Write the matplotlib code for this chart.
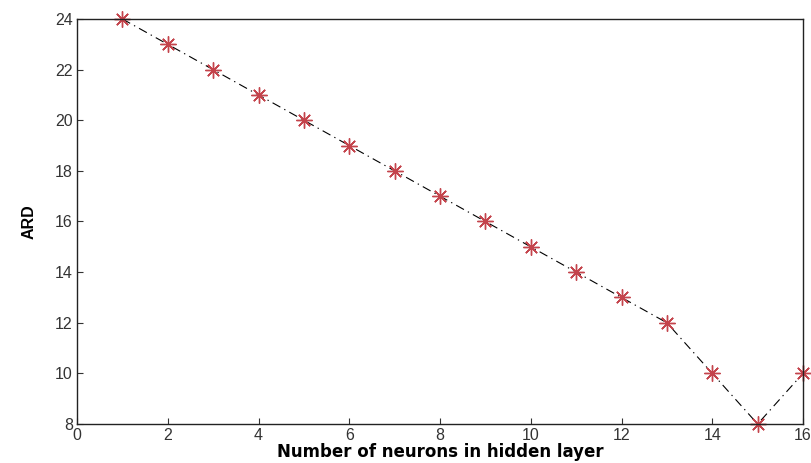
import numpy as np
import matplotlib.pyplot as plt

neurons = [1, 2, 3, 4, 5, 6, 7, 8, 9, 10, 11, 12, 13, 14, 15, 16]
ard = [24, 23, 22, 21, 20, 19, 18, 17, 16, 15, 14, 13, 12, 10, 8, 10]

xticks = [0, 2, 4, 6, 8, 10, 12, 14, 16]
yticks = [8, 10, 12, 14, 16, 18, 20, 22, 24]

plt.rcParams['font.family'] = ['Liberation Sans', 'DejaVu Sans']

fig = plt.figure(figsize=(8.11, 4.63), dpi=100)
ax = fig.add_axes([77/811, 1 - 424/463, (803 - 77)/811, (424 - 19)/463])

# dash-dot line, then asterisk markers on top
ax.plot(neurons, ard, color='black', linestyle=(0, (8, 4, 1.2, 4)), linewidth=0.8, clip_on=False)
ax.plot(neurons, ard, linestyle='none', marker=(8, 2, 0), markersize=11.5,
        markeredgecolor='#c4444c', markeredgewidth=1.0, clip_on=False)

ax.set_xlim(0, 16)
ax.set_ylim(8, 24)
ax.set_xticks(xticks)
ax.set_yticks(yticks)
ax.tick_params(direction='in', length=4, width=0.8, labelsize=11.5, colors='#333333',
               top=False, right=False, pad=3)
for s in ax.spines.values():
    s.set_linewidth(1.0)
    s.set_color('#222222')

ax.set_xlabel('Number of neurons in hidden layer', fontsize=12, fontweight='bold', labelpad=0,
              family=['DejaVu Sans'])
ax.set_ylabel('ARD', fontsize=11.5, fontweight='bold', labelpad=13,
              family=['Liberation Sans Narrow', 'Liberation Sans', 'DejaVu Sans'])

fig.savefig('out.png', dpi=100)
